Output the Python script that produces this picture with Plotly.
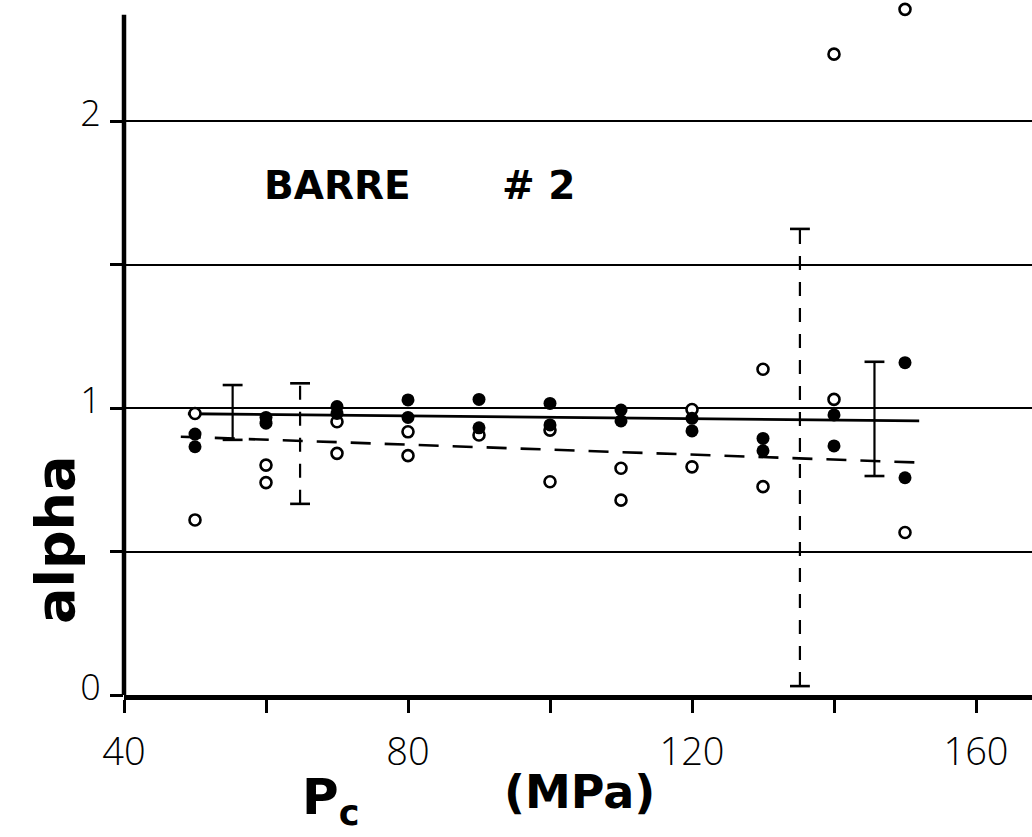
import plotly.graph_objects as go

# ---- data ----
open_x = [50, 50, 60, 60, 70, 70, 80, 80, 90, 100, 100, 110, 110, 120, 120, 130, 130, 140, 140, 150, 150]
open_y = [0.981, 0.61, 0.801, 0.740, 0.952, 0.842, 0.917, 0.834, 0.906, 0.923, 0.743,
          0.790, 0.679, 0.995, 0.795, 1.135, 0.726, 2.233, 1.030, 2.389, 0.566]

filled_x = [50, 50, 60, 60, 70, 70, 80, 80, 90, 90, 100, 100, 110, 110, 120, 120, 130, 130, 140, 140, 150, 150]
filled_y = [0.909, 0.865, 0.967, 0.947, 1.005, 0.981, 1.028, 0.967, 1.030, 0.931, 1.016, 0.941,
            0.993, 0.955, 0.964, 0.920, 0.894, 0.851, 0.976, 0.868, 1.158, 0.757]

fit_solid_x = [49, 152]
fit_solid_y = [0.980, 0.955]
fit_dashed_x = [48, 153]
fit_dashed_y = [0.900, 0.809]

err_x = [55.3, 64.8, 135.2, 145.7]
err_lo = [0.889, 0.666, 0.031, 0.763]
err_hi = [1.080, 1.086, 1.624, 1.161]
err_style = ["solid", "dash", "dash", "solid"]

x_major = [40, 80, 120, 160]
x_minor = [60, 100, 140]
y_major = [0, 1, 2]
y_minor = [0.5, 1.5]

# ---- figure ----
W, H = 1032, 837
ML, MB = 124, 142
PX_PER_X = 7.1
PX_PER_Y = 287.0
x_range = [40, 40 + (W - ML) / PX_PER_X]
y_range = [0, (H - MB) / PX_PER_Y]

fig = go.Figure()

CAP = 1.4  # half width of error bar caps (x units)
for xe, lo, hi, st in zip(err_x, err_lo, err_hi, err_style):
    dash = "solid" if st == "solid" else "14px,12px"
    fig.add_trace(go.Scatter(x=[xe, xe], y=[lo, hi], mode="lines",
                             line=dict(color="black", width=2.2, dash=dash),
                             showlegend=False, hoverinfo="skip"))
    for yv in (lo, hi):
        fig.add_trace(go.Scatter(x=[xe - CAP, xe + CAP], y=[yv, yv], mode="lines",
                                 line=dict(color="black", width=2.6),
                                 showlegend=False, hoverinfo="skip"))

fig.add_trace(go.Scatter(x=fit_solid_x, y=fit_solid_y, mode="lines",
                         line=dict(color="black", width=2.8), showlegend=False))
fig.add_trace(go.Scatter(x=fit_dashed_x, y=fit_dashed_y, mode="lines",
                         line=dict(color="black", width=2.6, dash="20px,14px"), showlegend=False))

fig.add_trace(go.Scatter(x=open_x, y=open_y, mode="markers",
                         marker=dict(symbol="circle", size=11, color="white",
                                     line=dict(color="black", width=2.6)),
                         showlegend=False))
fig.add_trace(go.Scatter(x=filled_x, y=filled_y, mode="markers",
                         marker=dict(symbol="circle", size=13, color="black",
                                     line=dict(color="black", width=0)),
                         showlegend=False))

# y axis line (starts a little below the top)
fig.add_shape(type="line", xref="paper", yref="y", x0=0, x1=0, y0=0, y1=2.37,
              line=dict(color="black", width=4.5))

tick_font = dict(family="Open Sans", size=38, color="black", weight=300)
ytick_font = dict(family="Open Sans", size=36, color="black", weight=300)
bold = dict(family="DejaVu Sans", color="black", weight="bold")

fig.update_xaxes(range=x_range, tickvals=x_major,
                 showline=True, linecolor="black", linewidth=4.5,
                 ticks="outside", ticklen=13, tickwidth=3, tickcolor="black",
                 minor=dict(tickvals=x_minor, ticks="outside", ticklen=13, tickwidth=3,
                            tickcolor="black", showgrid=False),
                 showgrid=False, zeroline=False, tickfont=tick_font,
                 ticklabelstandoff=7)
fig.update_yaxes(range=y_range, tickvals=y_major,
                 showline=False, ticks="outside", ticklen=13, tickwidth=3, tickcolor="black",
                 minor=dict(tickvals=y_minor, ticks="outside", ticklen=13, tickwidth=3,
                            tickcolor="black", showgrid=True, gridcolor="black", gridwidth=1.6),
                 showgrid=True, gridcolor="black", gridwidth=1.6,
                 zeroline=False, tickfont=ytick_font, ticklabelstandoff=2,
                 ticklabelshift=-8)

def px_x(p):
    return (p - ML) / (W - ML)

def px_y(p):
    return (H - MB - p) / (H - MB)

def label(text, cx, cy, size, angle=0):
    fig.add_annotation(text=text, textangle=angle, xref="paper", yref="paper",
                       x=px_x(cx), y=px_y(cy), xanchor="center", yanchor="middle",
                       showarrow=False, font=dict(size=size, **bold))

label("alpha", 55, 540, 54, angle=-90)
label("BARRE", 337, 185, 39)
label("# 2", 538, 185, 39)
label("P<sub>c</sub>", 330, 800, 50)
label("(MPa)", 579, 792, 46)

fig.update_layout(width=W, height=H, margin=dict(l=ML, r=0, t=0, b=MB),
                  plot_bgcolor="white", paper_bgcolor="white", showlegend=False)

fig.write_html("out.html", config={"displayModeBar": False})
